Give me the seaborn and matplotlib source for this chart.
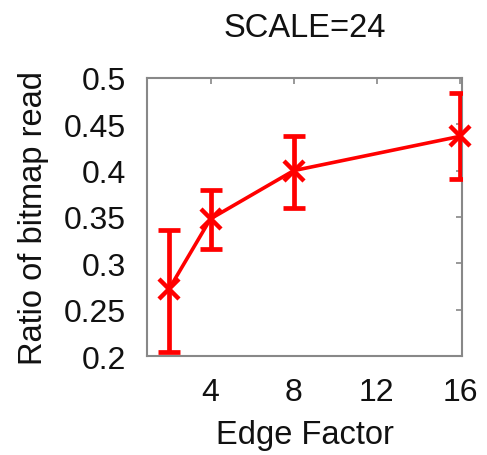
import matplotlib
matplotlib.use("Agg")
import matplotlib.pyplot as plt
import seaborn as sns
import pandas as pd

edge_factor = [2, 4, 8, 16]
ratio_mean = [0.272, 0.348, 0.400, 0.437]
ratio_low = [0.204, 0.315, 0.360, 0.391]
ratio_high = [0.336, 0.379, 0.437, 0.484]
x_ticks = [4, 8, 12, 16]
y_ticks = [0.2, 0.25, 0.3, 0.35, 0.4, 0.45, 0.5]
y_tick_labels = ["0.2", "0.25", "0.3", "0.35", "0.4", "0.45", "0.5"]

sns.set_style("white")
plt.rcParams['font.family'] = ['Liberation Sans', 'DejaVu Sans']
plt.rcParams['text.color'] = '#111111'
plt.rcParams['axes.labelcolor'] = '#111111'
plt.rcParams['xtick.labelcolor'] = '#111111'
plt.rcParams['ytick.labelcolor'] = '#111111'

df = pd.DataFrame({"Edge Factor": edge_factor, "ratio": ratio_mean})

fig = plt.figure(figsize=(4.87, 4.56), dpi=100)
ax = fig.add_axes([0.302, 0.217, 0.647, 0.61])

red = "#ff0000"
yerr = [[m - l for m, l in zip(ratio_mean, ratio_low)],
        [h - m for m, h in zip(ratio_mean, ratio_high)]]
ax.errorbar(edge_factor, ratio_mean, yerr=yerr, fmt="none", ecolor=red,
            elinewidth=3.4, capsize=8, capthick=3.4, zorder=3)
sns.lineplot(data=df, x="Edge Factor", y="ratio", ax=ax, color=red,
             linewidth=2.6, marker="x", markersize=15, markeredgewidth=3.2,
             markeredgecolor=red, zorder=4, clip_on=False)

ax.set_xlim(0.95, 16.1)
ax.set_ylim(0.2, 0.5)
ax.set_xticks(x_ticks)
ax.set_xticklabels([str(t) for t in x_ticks])
ax.set_yticks(y_ticks)
ax.set_yticklabels(y_tick_labels)
ax.tick_params(direction="in", length=4, width=1.2, color="#888888",
               top=True, right=True, labelsize=23, pad=15)
for s in ax.spines.values():
    s.set_color("#888888")
    s.set_linewidth(1.5)
    s.set_visible(True)

ax.set_xlabel("Edge Factor", fontsize=23.5, labelpad=9)
ax.set_ylabel("Ratio of bitmap read", fontsize=23.5, labelpad=11)
ax.set_title("SCALE=24", fontsize=23.5, pad=30)

fig.savefig("out.png", dpi=100)
